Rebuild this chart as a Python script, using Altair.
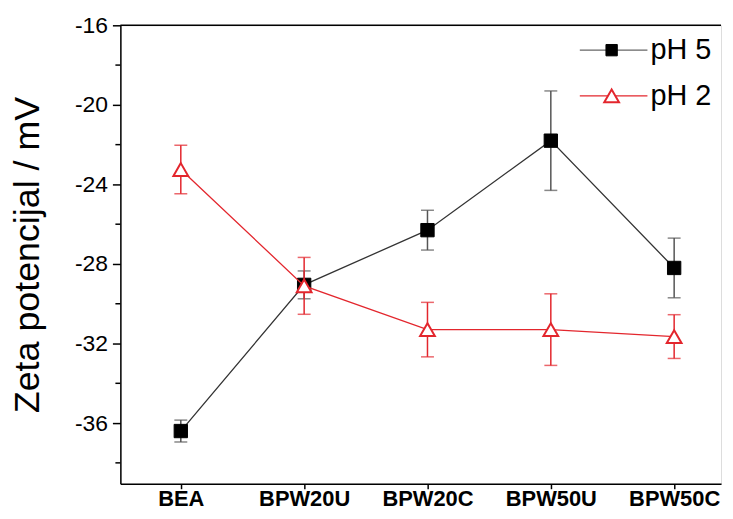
import altair as alt
import pandas as pd

categories = ["BEA", "BPW20U", "BPW20C", "BPW50U", "BPW50C"]
ph5_values = [-36.4, -29.05, -26.3, -21.8, -28.2]
ph5_errors = [0.55, 0.7, 1.0, 2.5, 1.5]
ph2_values = [-23.25, -29.1, -31.3, -31.3, -31.65]
ph2_errors = [1.22, 1.43, 1.37, 1.8, 1.1]
y_major_ticks = [-36, -32, -28, -24, -20, -16]
y_minor_ticks = [-38, -34, -30, -26, -22, -18]
series_names = ["pH 5", "pH 2"]

BLACK = "#000000"
LINE_BLACK = "#333333"
ERR_BLACK = "#555555"
RED = "#e3262d"
FONT = "Liberation Sans"
W, H = 604, 461

rows = []
for i, c in enumerate(categories):
    rows.append({"idx": i, "cat": c, "series": "pH 5", "v": ph5_values[i],
                 "lo": ph5_values[i] - ph5_errors[i], "hi": ph5_values[i] + ph5_errors[i]})
for i, c in enumerate(categories):
    rows.append({"idx": i, "cat": c, "series": "pH 2", "v": ph2_values[i],
                 "lo": ph2_values[i] - ph2_errors[i], "hi": ph2_values[i] + ph2_errors[i]})
df = pd.DataFrame(rows)
df5 = df[df.series == "pH 5"]
df2 = df[df.series == "pH 2"]

label_expr = "[" + ",".join("'%s'" % c for c in categories) + "][datum.value]"

xs = alt.Scale(domain=[-0.49, 4.38], nice=False, zero=False)
ys = alt.Scale(domain=[-39.05, -16], nice=False, zero=False)

x_enc = alt.X("idx:Q", scale=xs, axis=alt.Axis(
    values=[0, 1, 2, 3, 4], labelExpr=label_expr, title=None, grid=False,
    tickSize=5, tickColor=BLACK, domainColor=BLACK, domainWidth=1.5, tickWidth=1.5,
    labelFont=FONT, labelFontSize=22, labelFontWeight="bold", labelColor=BLACK,
    labelPadding=0))
y_axis = alt.Axis(
    values=y_major_ticks, labelExpr="'' + datum.value", title="Zeta potencijal / mV", grid=False,
    tickSize=8, tickColor=BLACK, domainColor=BLACK, domainWidth=1.5, tickWidth=1.5,
    labelFont=FONT, labelFontSize=23, labelColor=BLACK, labelPadding=5,
    titleFont=FONT, titleFontSize=36, titleFontWeight="normal", titleColor=BLACK,
    titlePadding=28)


def layers_for(d, color, line_color, err_color, shape, fill, stroke_w, size):
    err = alt.Chart(d).mark_rule(color=err_color, strokeWidth=1.5).encode(
        x=alt.X("idx:Q", scale=xs), y=alt.Y("lo:Q", scale=ys), y2="hi:Q")
    cap_lo = alt.Chart(d).mark_tick(orient="horizontal", color=err_color,
                                    size=13, thickness=1.5).encode(
        x=alt.X("idx:Q", scale=xs), y=alt.Y("lo:Q", scale=ys))
    cap_hi = alt.Chart(d).mark_tick(orient="horizontal", color=err_color,
                                    size=13, thickness=1.5).encode(
        x=alt.X("idx:Q", scale=xs), y=alt.Y("hi:Q", scale=ys))
    line = alt.Chart(d).mark_line(color=line_color, strokeWidth=1.3).encode(
        x=alt.X("idx:Q", scale=xs), y=alt.Y("v:Q", scale=ys), order="idx:Q")
    pts = alt.Chart(d).mark_point(shape=shape, filled=True, fill=fill, stroke=color,
                                  strokeWidth=stroke_w, size=size, opacity=1).encode(
        x=alt.X("idx:Q", scale=xs), y=alt.Y("v:Q", scale=ys))
    return [err, cap_lo, cap_hi, line, pts]


base = alt.Chart(df5).mark_point(opacity=0).encode(x=x_enc, y=alt.Y("v:Q", scale=ys, axis=y_axis))

minor = alt.Chart(pd.DataFrame({"m": y_minor_ticks})).mark_rule(color=BLACK, strokeWidth=1.5).encode(
    y=alt.Y("m:Q", scale=ys), x=alt.value(-5), x2=alt.value(0))

top_line = alt.Chart(pd.DataFrame({"a": [0]})).mark_rule(color=BLACK, strokeWidth=1.5).encode(
    y=alt.value(0), x=alt.value(0), x2=alt.value(W))

l5 = layers_for(df5, BLACK, LINE_BLACK, ERR_BLACK, "square", BLACK, 1, 180)
l2 = layers_for(df2, RED, RED, RED, "triangle-up", "white", 2, 220)

# legend
leg = pd.DataFrame({"name": series_names, "ypx": [25, 71]})
leg5 = leg[leg.name == "pH 5"]
leg2 = leg[leg.name == "pH 2"]
legend_layers = []
for d, col, edge, shape, fill, sw, sz in [(leg5, "#666666", BLACK, "square", BLACK, 1, 130),
                                           (leg2, RED, RED, "triangle-up", "white", 2, 220)]:
    legend_layers.append(alt.Chart(d).mark_rule(color=col, strokeWidth=1.2).encode(
        y=alt.Y("ypx:Q", scale=None), x=alt.value(462), x2=alt.value(530)))
    legend_layers.append(alt.Chart(d).mark_point(shape=shape, filled=True, fill=fill,
                                                 stroke=edge, strokeWidth=sw, size=sz,
                                                 opacity=1).encode(
        y=alt.Y("ypx:Q", scale=None), x=alt.value(494)))
    legend_layers.append(alt.Chart(d).mark_text(align="left", baseline="middle", font=FONT,
                                                fontSize=29, color=BLACK).encode(
        y=alt.Y("ypx:Q", scale=None), x=alt.value(533), text="name:N"))

chart = alt.layer(base, minor, top_line, *l5, *l2, *legend_layers).properties(
    width=W, height=H,
    autosize=alt.AutoSizeParams(type="none"),
    padding={"left": 113, "top": 16, "right": 4, "bottom": 26},
).configure_view(stroke=None).configure(background="white")

chart.save("out.html", embed_options={"renderer": "svg", "actions": False})
